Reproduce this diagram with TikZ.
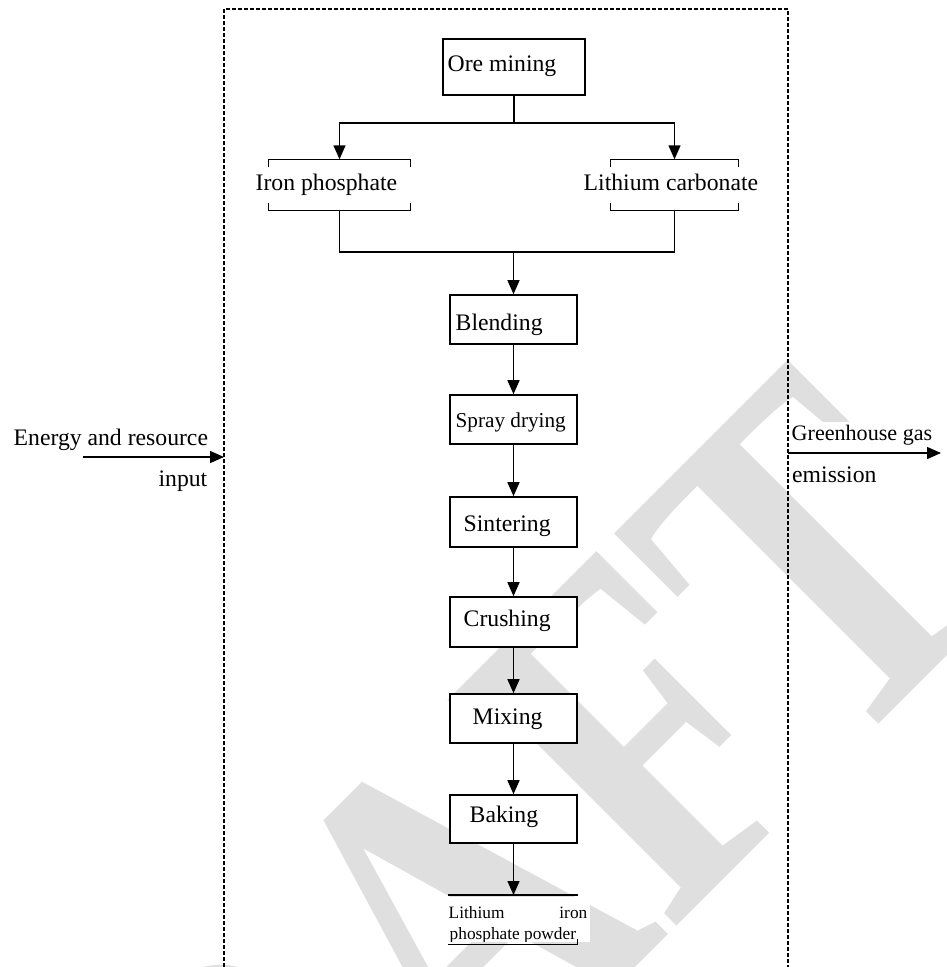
\documentclass[tikz,border=0pt]{standalone}
\usepackage{fontspec}
\setmainfont{Liberation Serif}
\usetikzlibrary{arrows.meta}
\definecolor{wmgray}{RGB}{223,223,223}
\newcommand\setfs[1]{\fontsize{#1}{#1}\selectfont}

\begin{document}
\begin{tikzpicture}[x=1pt,y=-1pt,
  line width=1.4pt,
  procbox/.style={draw, fill=white, line width=1.6pt, minimum width=127pt, minimum height=49pt, inner sep=0pt},
  brk/.style={minimum width=#1, minimum height=50pt, inner sep=0pt},
  lbl/.style={anchor=base west, inner sep=0pt, font=\setfs{23.7}},
  rlbl/.style={anchor=base east, inner sep=0pt, font=\setfs{23.7}},
  flow/.style={-{Triangle[length=14pt,width=12pt]}},
  frame/.style={dash pattern=on 4pt off 2pt, line width=1.1pt}
]
\useasboundingbox (0,0) rectangle (946,967);

% diagonal watermark behind everything
\begin{scope}[shift={(79.5,1523.5)}, rotate=45, xscale=0.786]
  \node[transform shape, anchor=base west, inner sep=0pt, text=wmgray,
        font=\setfs{491}\bfseries] (wm) at (0,0) {DRAFT};
\end{scope}

% system boundary
\draw[frame] (224,967) -- (224,9) -- (788,9) -- (788,967);

% raw material stage
\node[procbox, minimum width=142pt, minimum height=56pt] (ore) at (514,67) {};
\node[lbl] (oretxt) at (447,71.5) {Ore mining};

\node[brk=141pt] (iron) at (339.5,185) {};
\node[brk=127pt] (lith) at (674.5,185) {};
\node[lbl] (irontxt) at (255,190) {Iron phosphate};
\node[lbl] (lithtxt) at (583,190) {Lithium carbonate};
\foreach \b in {iron,lith}{
  \draw ([yshift=-8pt]\b.north west) -- (\b.north west) -- (\b.north east) -- ([yshift=-8pt]\b.north east);
  \draw ([yshift=8pt]\b.south west) -- (\b.south west) -- (\b.south east) -- ([yshift=8pt]\b.south east);
}

% process chain
\node[procbox] (blend) at (513.5,319.5) {};
\node[procbox] (spray) at (513.5,419.5) {};
\node[procbox, minimum height=50pt] (sinter) at (513.5,522) {};
\node[procbox, minimum height=50pt] (crush) at (513.5,622) {};
\node[procbox] (mix) at (513.5,718.5) {};
\node[procbox, minimum height=48pt] (bake) at (513.5,819) {};

\node[lbl] (blendtxt) at (455,330) {Blending};
\node[lbl, font=\setfs{21.2}] (spraytxt) at (455,427) {Spray drying};
\node[lbl] (sintertxt) at (463,531) {Sintering};
\node[lbl] (crushtxt) at (463,626) {Crushing};
\node[lbl] (mixtxt) at (472,724) {Mixing};
\node[lbl] (baketxt) at (469,822) {Baking};

% product
\node[inner sep=0pt, minimum width=128pt, minimum height=48pt, anchor=north] (lfp) at (513,895) {};
\fill[white] (448,897) rectangle (590,942);
\begin{scope}
  \clip (440,897) rectangle (600,941.5);
  \node[lbl, font=\setfs{17.3}] (lfp1) at (448,918) {Lithium};
  \node[rlbl, font=\setfs{17.3}] (lfp2) at (588,918) {iron};
  \node[lbl, font=\setfs{17.3}] (lfp3) at (449,939) {phosphate powder};
\end{scope}
\draw (lfp.north west) -- (lfp.north east);
\draw (lfp.south west) -- (lfp.south east) -- ++(0,-5);

% connectors
\coordinate (split) at (514,123);
\coordinate (merge) at (513.5,252);
\draw (ore.south) -- (split);
\draw[flow] (split) -| (iron.north);
\draw[flow] (split) -| (lith.north);
\draw (iron.south) |- (merge) -| (lith.south);
\draw[flow] (merge) -- (blend.north);
\draw[flow] (blend) -- (spray);
\draw[flow] (spray) -- (sinter);
\draw[flow] (sinter) -- (crush);
\draw[flow] (crush) -- (mix);
\draw[flow] (mix) -- (bake);
\draw[flow] (bake) -- (bake |- lfp.north);

% inputs and outputs across the boundary
\node[lbl] (ein1) at (13,445.5) {Energy and resource};
\node[rlbl] (ein2) at (208,486) {input};
\coordinate (ein) at (83,457);
\coordinate (einend) at (224,457);
\draw[flow] (ein) -- (einend);

\node[lbl, font=\setfs{22.1}, fill=white, inner ysep=3pt] (ghg1) at (791,440) {Greenhouse gas};
\node[lbl, fill=white, inner ysep=3pt] (ghg2) at (791.5,482) {emission};
\coordinate (gout) at (788,453);
\coordinate (gend) at (941,453);
\draw[flow] (gout) -- (gend);
\end{tikzpicture}
\end{document}
